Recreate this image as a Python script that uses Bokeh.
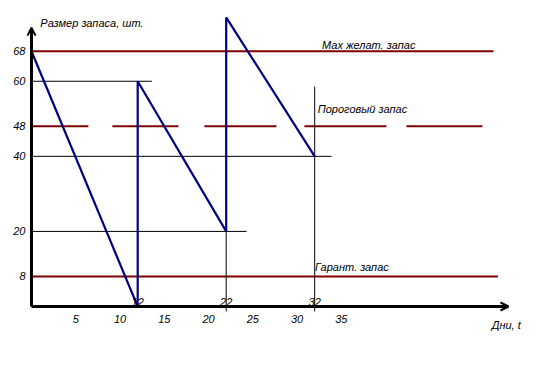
from bokeh.plotting import figure
from bokeh.models import Arrow, OpenHead, FixedTicker, Label
from bokeh.core.properties import value
from bokeh.embed import file_html
from bokeh.resources import INLINE

# ---- data ----
cycle_days = [0, 12, 12, 22, 22, 32]
cycle_stock = [68, 0, 60, 20, 77, 40]
order_days = [12, 22, 32]
order_labels = ["12", "22", "32"]
max_stock = 68
threshold_stock = 48
safety_stock = 8
level_names = ["Мах желат. запас", "Пороговый запас", "Гарант. запас"]
y_ticks = [8, 20, 40, 48, 60, 68]
x_ticks = [5, 10, 15, 20, 25, 30, 35]
y_title = "Размер запаса, шт."
x_title = "Дни, t"

# ---- styling / geometry ----
W, H = 547, 383
OX, OY = 31, 306          # screen position of the origin
PXX = 8.85                # px per day
PXY = 3.754               # px per unit
FONT = "Liberation Sans"
BROWN = "#800000"
NAVY = "#000080"

p = figure(width=W, height=H, output_backend="svg", toolbar_location=None,
           x_range=(-OX / PXX, (W - OX) / PXX),
           y_range=(-(H - OY) / PXY, OY / PXY),
           min_border_left=0, min_border_right=0, min_border_top=0,
           min_border_bottom=0)
p.outline_line_color = None
p.grid.visible = False
p.background_fill_color = "white"
p.border_fill_color = "white"

for ax, ticks in ((p.xaxis, x_ticks), (p.yaxis, y_ticks)):
    ax.ticker = FixedTicker(ticks=ticks)
    ax.fixed_location = 0
    ax.axis_line_color = None
    ax.major_tick_line_color = None
    ax.minor_tick_line_color = None
    ax.major_tick_out = 0
    ax.major_tick_in = 0
    ax.major_label_text_font = FONT
    ax.major_label_text_font_style = "italic"
    ax.major_label_text_font_size = "11px"
    ax.major_label_text_color = "black"
p.xaxis.major_label_standoff = 8
p.yaxis.major_label_standoff = 6

# brown level lines
p.segment(x0=[0], y0=[max_stock], x1=[52.2], y1=[max_stock], line_color=BROWN, line_width=2)
p.segment(x0=[0], y0=[safety_stock], x1=[52.7], y1=[safety_stock], line_color=BROWN, line_width=2)
p.segment(x0=[0.1], y0=[threshold_stock], x1=[51.0], y1=[threshold_stock], line_color=BROWN,
          line_width=2, line_dash="56 24 66 26 72 28 82 20 76 60")

# thin black helper lines
p.segment(x0=[0, 0, 0], y0=[cycle_stock[2], cycle_stock[3], cycle_stock[5]],
          x1=[order_days[0] + 1.6, order_days[1] + 2.3, order_days[2] + 1.9],
          y1=[cycle_stock[2], cycle_stock[3], cycle_stock[5]],
          line_color="black", line_width=1)
p.segment(x0=[order_days[1], order_days[2]], y0=[-1.3, -1.3],
          x1=[order_days[1], order_days[2]], y1=[cycle_stock[3], 58.6],
          line_color="black", line_width=1)

# stock sawtooth
p.line(cycle_days, cycle_stock, line_color=NAVY, line_width=2.2)

# axes with arrows
p.add_layout(Arrow(end=OpenHead(size=8, line_width=2, line_color="black"),
                   x_start=0, y_start=0, x_end=0, y_end=74.3,
                   line_color="black", line_width=3))
p.add_layout(Arrow(end=OpenHead(size=8, line_width=2, line_color="black"),
                   x_start=0, y_start=0, x_end=53.9, y_end=0,
                   line_color="black", line_width=3))

# labels
txt = dict(text_font=value(FONT), text_font_style="italic", text_font_size="11px",
           text_color="black")
p.text(x=[38.1, 37.4, 36.2],
       y=[max_stock + 1.7, threshold_stock + 4.7, safety_stock + 2.4],
       text=level_names, text_align="center", text_baseline="alphabetic", **txt)
p.text(x=order_days, y=[1.1, 1.1, 1.3], text=order_labels, text_align="center",
       text_baseline="alphabetic", **txt)

lbl = dict(text_font=FONT, text_font_style="italic", text_font_size="11px",
           text_color="black")
p.add_layout(Label(x=1.0, y=75.4, text=y_title, text_align="left",
                   text_baseline="middle", **lbl))
p.add_layout(Label(x=52.0, y=-4.9, text=x_title, text_align="left",
                   text_baseline="middle", **lbl))

open("out.html", "w").write(file_html(p, INLINE))
